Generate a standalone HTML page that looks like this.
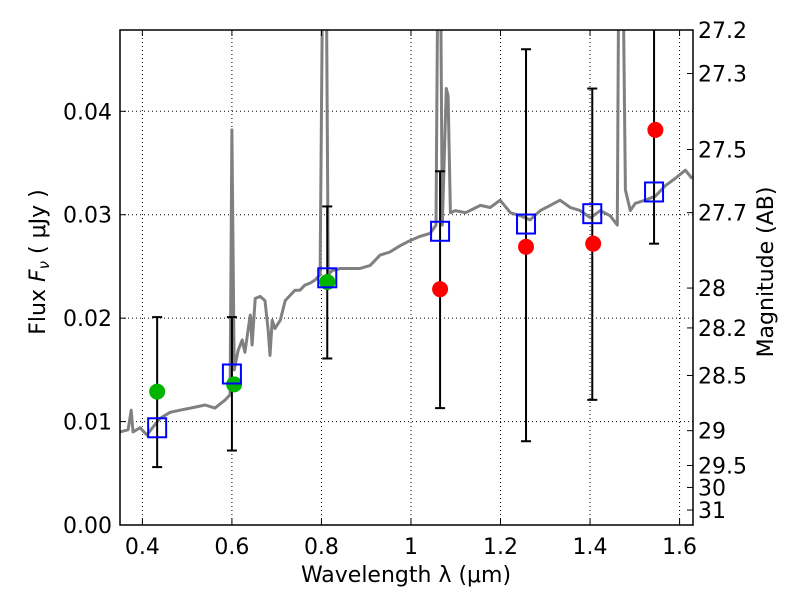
<!DOCTYPE html>
<html><head><meta charset="utf-8"><style>
body{margin:0;background:#fff}
svg text{font-family:"DejaVu Sans","Liberation Sans",sans-serif;fill:#000}
</style></head><body>
<svg id="chart" width="800" height="600" xmlns="http://www.w3.org/2000/svg">
<g id="grid"></g>
<g id="spec"></g>
<g id="marks"></g>
<g id="axes"></g>
</svg>
<script>
const specWave=[0.350,0.368,0.375,0.379,0.395,0.410,0.428,0.439,0.462,0.484,0.518,0.540,0.562,0.585,0.596,0.600,0.605,0.614,0.623,0.629,0.636,0.641,0.645,0.652,0.663,0.674,0.681,0.685,0.690,0.696,0.708,0.719,0.730,0.741,0.752,0.763,0.775,0.786,0.797,0.804,0.810,0.815,0.824,0.842,0.864,0.886,0.909,0.931,0.953,0.976,0.998,1.020,1.043,1.056,1.061,1.065,1.070,1.079,1.083,1.088,1.099,1.122,1.155,1.177,1.199,1.222,1.244,1.266,1.289,1.311,1.333,1.356,1.378,1.401,1.423,1.445,1.461,1.465,1.472,1.479,1.490,1.501,1.523,1.546,1.568,1.590,1.613,1.628];
const specFlux=[0.0090,0.0092,0.0111,0.0090,0.0094,0.0087,0.0097,0.0103,0.0109,0.0111,0.0114,0.0116,0.0113,0.0121,0.0126,0.0382,0.0150,0.0169,0.0179,0.0167,0.0188,0.0203,0.0174,0.0219,0.0221,0.0217,0.0188,0.0164,0.0198,0.0190,0.0198,0.0217,0.0222,0.0227,0.0227,0.0232,0.0234,0.0237,0.0242,0.06,0.06,0.0242,0.0246,0.0248,0.0248,0.0248,0.0251,0.0261,0.0264,0.0270,0.0275,0.0279,0.0282,0.0290,0.06,0.06,0.0290,0.0422,0.0415,0.0302,0.0304,0.0302,0.0309,0.0307,0.0314,0.0302,0.0299,0.0295,0.0304,0.0309,0.0314,0.0307,0.0304,0.0297,0.0304,0.0299,0.0290,0.06,0.06,0.0324,0.0304,0.0311,0.0314,0.0318,0.0328,0.0335,0.0343,0.0335];
const bandWave=[0.433,0.600,0.813,1.065,1.257,1.405,1.543];
const modelFlux=[0.0094,0.0146,0.0239,0.0284,0.0291,0.0301,0.0322];
const errLow=[0.0056,0.0072,0.0161,0.0113,0.0081,0.0121,0.0272];
const errHigh=[0.0201,0.0201,0.0308,0.0342,0.0460,0.0422,0.0600];
const greenWave=[0.433,0.605,0.813];
const greenFlux=[0.0129,0.0136,0.0235];
const redWave=[1.065,1.257,1.407,1.546];
const redFlux=[0.0228,0.0269,0.0272,0.0382];
const xTicks=[0.4,0.6,0.8,1.0,1.2,1.4,1.6];
const xTickLabels=["0.4","0.6","0.8","1","1.2","1.4","1.6"];
const yTicks=[0,0.01,0.02,0.03,0.04];
const yTickLabels=["0.00","0.01","0.02","0.03","0.04"];
const magTicks=[27.2,27.3,27.5,27.7,28,28.2,28.5,29,29.5,30,31];

const L=120,R=693,T=30,B=525,xmin=0.35,xmax=1.630,ymin=0,ymax=0.04786;
const X=v=>L+(v-xmin)/(xmax-xmin)*(R-L);
const Y=v=>B-(v-ymin)/(ymax-ymin)*(B-T);
const NS="http://www.w3.org/2000/svg";
function mk(tag,parent,attrs){const e=document.createElementNS(NS,tag);for(const k in attrs)e.setAttribute(k,attrs[k]);parent.appendChild(e);return e;}
const grid=document.getElementById('grid'),spec=document.getElementById('spec'),marks=document.getElementById('marks'),axes=document.getElementById('axes');
const svg=document.getElementById('chart');
const defs=mk('defs',svg,{});const cp=mk('clipPath',defs,{id:'clip'});mk('rect',cp,{x:L,y:T,width:R-L,height:B-T});
spec.setAttribute('clip-path','url(#clip)');marks.setAttribute('clip-path','url(#clip)');

xTicks.forEach((t,i)=>{
 const l=mk('line',grid,{x1:X(t),x2:X(t),y1:T,y2:B,stroke:'#000','stroke-width':1,'stroke-dasharray':'1,3'});
 
 
 mk('line',axes,{x1:X(t),x2:X(t),y1:B,y2:B-6,stroke:'#000'});
 mk('line',axes,{x1:X(t),x2:X(t),y1:T,y2:T+6,stroke:'#000'});
 const tx=mk('text',axes,{x:X(t),y:554,'font-size':22,'text-anchor':'middle'});tx.textContent=xTickLabels[i];
 
 
});
yTicks.forEach((t,i)=>{
 if(t>0){const l=mk('line',grid,{x1:L,x2:R,y1:Y(t),y2:Y(t),stroke:'#000','stroke-width':1,'stroke-dasharray':'1,3'});
 
 }
 mk('line',axes,{x1:L,x2:L+6,y1:Y(t),y2:Y(t),stroke:'#000'});
 const tx=mk('text',axes,{x:112,y:Y(t)+8,'font-size':22,'text-anchor':'end'});tx.textContent=yTickLabels[i];
 
 
});
magTicks.forEach(m=>{
 const f=Math.pow(10,(23.9-m)/2.5);const y=Y(f);
 mk('line',axes,{x1:R,x2:R-6,y1:y,y2:y,stroke:'#000'});
 const tx=mk('text',axes,{x:698,y:y+8,'font-size':22});tx.textContent=String(m);
 
 
});
const pts=specWave.map((w,i)=>X(w).toFixed(1)+','+Y(specFlux[i]).toFixed(1)).join(' ');
const pl=mk('polyline',spec,{points:pts,fill:'none',stroke:'#808080','stroke-width':3,'stroke-linejoin':'round'});



bandWave.forEach((w,i)=>{
 const x=X(w);
 const g=mk('g',marks,{});
 
 
 mk('line',g,{x1:x,x2:x,y1:Y(errLow[i]),y2:Y(errHigh[i]),stroke:'#000','stroke-width':2});
 mk('line',g,{x1:x-5,x2:x+5,y1:Y(errLow[i]),y2:Y(errLow[i]),stroke:'#000','stroke-width':2});
 mk('line',g,{x1:x-5,x2:x+5,y1:Y(errHigh[i]),y2:Y(errHigh[i]),stroke:'#000','stroke-width':2});
});
greenWave.forEach((w,i)=>{const c=mk('circle',marks,{cx:X(w),cy:Y(greenFlux[i]),r:8,fill:'#00b400'});
 
 });
redWave.forEach((w,i)=>{const c=mk('circle',marks,{cx:X(w),cy:Y(redFlux[i]),r:8,fill:'#f00'});
 
 });
bandWave.forEach((w,i)=>{const r=mk('rect',marks,{x:X(w)-9,y:Y(modelFlux[i])-9.5,width:18,height:19,fill:'none',stroke:'#00f','stroke-width':2});
 
 });

const fr=mk('rect',axes,{x:L,y:T,width:R-L,height:B-T,fill:'none',stroke:'#000','stroke-width':1.5});


let t=mk('text',axes,{x:406,y:582,'font-size':22,'text-anchor':'middle'});t.textContent='Wavelength  λ (μm)';


t=mk('text',axes,{x:0,y:0,'font-size':22,'text-anchor':'middle',transform:'translate(45,262) rotate(-90)'});
t.innerHTML='Flux  <tspan font-style="italic">F</tspan><tspan font-style="italic" font-size="15" dy="4">ν</tspan><tspan dy="-4">  (  μJy )</tspan>';


t=mk('text',axes,{x:0,y:0,'font-size':22,'text-anchor':'middle',transform:'translate(773,272) rotate(-90)'});t.textContent='Magnitude (AB)';


</script>
</body></html>
